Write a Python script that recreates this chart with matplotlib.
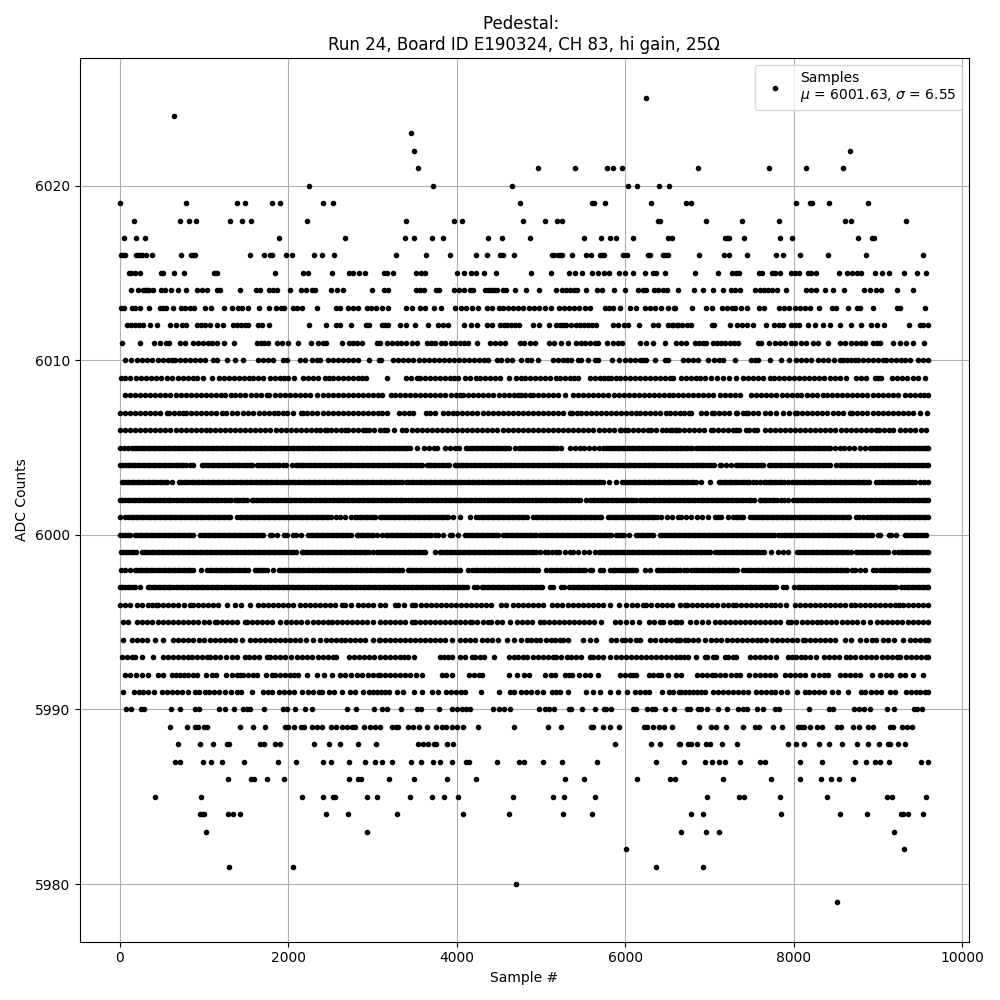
import matplotlib
matplotlib.use("Agg")
import matplotlib.pyplot as plt

# sample numbers per ADC level
s6025 = [6247]
s6024 = [645]
s6023 = [3458]
s6022 = [3493, 8668]
s6021 = [3541, 4965, 5404, 5784, 5851, 5962, 6864, 7707, 8146, 8585]
s6020 = [2247, 3719, 4656, 6033, 6140, 6401, 6520]
s6019 = [0, 787, 1392, 1487, 1808, 1903, 2413, 2532, 4751, 5600, 5625, 5760, 6306, 6722, 6781, 8027, 8193, 8217, 8419, 8882]
s6018 = [170, 716, 823, 906, 1309, 1452, 1559, 2223, 3399, 3968, 4063, 4787, 5048, 5191, 5250, 6389, 6413, 6959, 7386, 7826, 8609, 8680, 9333]
s6017 = [51, 194, 301, 1891, 2674, 3387, 3493, 3707, 3838, 4372, 4538, 4870, 5511, 5713, 5820, 5891, 6093, 6508, 6555, 7185, 7208, 7232, 7410, 7837, 7980, 8763, 8929, 8953]
s6016 = [16, 40, 63, 194, 218, 241, 265, 313, 384, 728, 847, 870, 894, 1547, 1713, 1784, 1808, 1974, 2045, 2306, 2401, 2544, 3280, 3636, 3921, 4229, 4360, 4518, 4542, 4680, 5131, 5155, 5202, 5226, 5250, 5369, 5535, 5594, 5701, 5725, 5748, 5974, 6021, 6271, 6295, 6449, 6472, 6508, 6876, 7173, 7232, 7446, 7790, 7873, 8075, 8407, 8858, 9535]
s6015 = [111, 134, 182, 241, 490, 514, 645, 763, 1120, 1155, 1843, 2176, 2235, 2520, 2722, 2769, 2840, 2912, 3137, 3173, 3244, 3517, 3577, 3624, 4004, 4087, 4170, 4229, 4324, 4467, 4882, 5119, 5333, 5404, 5487, 5606, 5677, 5748, 5808, 5926, 5998, 6093, 6235, 6330, 6366, 6472, 6829, 7102, 7268, 7315, 7351, 7588, 7624, 7742, 7778, 7837, 7968, 8015, 8063, 8170, 8205, 8265, 8538, 8633, 8692, 8751, 8799, 8965, 9048, 9131, 9309, 9463, 9570]
s6014 = [134, 218, 277, 301, 324, 348, 396, 490, 538, 609, 692, 787, 918, 977, 1036, 1155, 1191, 1428, 1618, 1665, 1772, 1820, 1867, 2021, 2152, 2211, 2283, 2318, 2508, 2579, 2650, 2995, 3137, 3185, 3517, 3565, 3612, 3755, 3790, 3968, 4028, 4087, 4158, 4194, 4336, 4372, 4407, 4443, 4479, 4550, 4585, 4692, 4823, 4977, 5179, 5250, 5297, 5345, 5392, 5428, 5535, 5665, 5725, 5867, 5998, 6152, 6211, 6247, 6342, 6389, 6449, 6496, 6627, 6817, 6924, 7042, 7161, 7256, 7303, 7363, 7541, 7600, 7648, 7695, 7742, 7802, 7909, 8146, 8205, 8265, 8372, 8466, 8597, 8834, 8906, 8977, 9036, 9226, 9416]
s6013 = [16, 51, 146, 182, 241, 348, 479, 514, 550, 633, 728, 775, 835, 882, 1013, 1084, 1238, 1333, 1404, 1452, 1523, 1654, 1772, 1855, 1915, 1950, 2057, 2105, 2164, 2342, 2567, 2615, 2710, 2769, 2829, 2935, 2983, 3042, 3114, 3185, 3399, 3470, 3565, 3624, 3731, 3814, 3980, 4051, 4111, 4182, 4253, 4360, 4419, 4502, 4550, 4609, 4668, 4728, 4787, 4858, 4918, 4977, 5048, 5119, 5214, 5274, 5333, 5392, 5452, 5523, 5582, 5760, 5808, 5855, 5938, 6057, 6128, 6235, 6295, 6354, 6425, 6508, 6579, 6591, 6793, 6959, 7030, 7149, 7208, 7268, 7303, 7375, 7446, 7588, 7651, 7826, 7885, 7944, 8015, 8075, 8134, 8193, 8300, 8454, 8502, 8644, 8751, 8787, 8941, 9226, 9262, 9558]
s6012 = [87, 130, 175, 225, 277, 360, 443, 597, 669, 740, 787, 910, 960, 1015, 1068, 1155, 1226, 1345, 1390, 1440, 1480, 1523, 1642, 1689, 1772, 2247, 2445, 2560, 2615, 2742, 2927, 2959, 3114, 3150, 3185, 3327, 3402, 3505, 3660, 3778, 3838, 3897, 4087, 4170, 4241, 4352, 4419, 4510, 4560, 4600, 4645, 4688, 4740, 4906, 4977, 5096, 5175, 5220, 5260, 5301, 5361, 5410, 5465, 5510, 5560, 5610, 5657, 5855, 5914, 5982, 6033, 6164, 6330, 6389, 6508, 6567, 6627, 6556, 6610, 6670, 6730, 6785, 7030, 7054, 7244, 7331, 7386, 7446, 7517, 7671, 7766, 7820, 7873, 7972, 8020, 8063, 8170, 8253, 8348, 8431, 8550, 8680, 8799, 8917, 8989, 9072, 9368, 9495, 9540, 9599]
s6011 = [28, 241, 407, 479, 546, 585, 716, 775, 870, 925, 985, 1040, 1095, 1147, 1238, 1353, 1622, 1670, 1715, 1760, 1867, 1926, 1998, 2116, 2271, 2354, 2413, 2445, 2639, 2722, 2770, 2820, 2868, 3046, 3086, 3165, 3225, 3285, 3340, 3400, 3465, 3521, 3640, 3690, 3739, 3806, 3865, 3925, 3980, 4040, 4090, 4134, 4241, 4392, 4450, 4510, 4569, 4748, 4800, 4865, 4926, 5096, 5155, 5238, 5321, 5420, 5475, 5525, 5578, 5638, 5677, 5784, 5855, 5914, 5962, 6172, 6251, 6330, 6472, 6607, 6660, 6726, 6825, 6880, 6925, 6963, 7042, 7090, 7135, 7181, 7240, 7290, 7339, 7576, 7616, 7703, 7778, 7835, 7893, 7964, 8020, 8085, 8142, 8229, 8288, 8407, 8546, 8610, 8684, 8743, 8795, 8842, 8941, 8985, 9020, 9179, 9258, 9337, 9416, 9546]
s6010 = [63, 134, 206, 265, 320, 376, 451, 514, 565, 613, 653, 710, 770, 830, 890, 950, 1009, 1108, 1155, 1274, 1369, 1464, 1642, 1700, 1760, 1820, 1938, 1986, 2136, 2195, 2275, 2334, 2381, 2472, 2530, 2590, 2650, 2710, 2770, 2829, 2959, 3074, 3102, 3244, 3304, 3365, 3425, 3485, 3545, 3605, 3665, 3725, 3785, 3845, 3905, 3965, 4025, 4085, 4145, 4205, 4265, 4320, 4372, 4471, 4530, 4590, 4649, 4767, 4827, 4886, 4965, 5143, 5200, 5255, 5310, 5361, 5440, 5479, 5559, 5638, 5677, 5843, 5922, 5994, 6053, 6112, 6170, 6215, 6251, 6350, 6468, 6508, 6686, 6745, 6805, 6864, 6983, 7054, 7110, 7161, 7299, 7497, 7540, 7576, 7715, 7853, 7944, 8031, 8090, 8150, 8210, 8288, 8348, 8410, 8480, 8546, 8585, 8630, 8680, 8724, 8763, 8820, 8880, 8940, 9000, 9060, 9099, 9159, 9215, 9270, 9325, 9376, 9475, 9535, 9599]
s6009 = [8, 65, 125, 185, 245, 305, 365, 430, 490, 555, 613, 692, 750, 810, 865, 918, 989, 1096, 1179, 1235, 1295, 1350, 1410, 1470, 1530, 1582, 1642, 1700, 1780, 1840, 1900, 1950, 1998, 2069, 2168, 2235, 2295, 2354, 2433, 2485, 2532, 2591, 2650, 2710, 2770, 2825, 2875, 2920, 3173, 3402, 3460, 3521, 3561, 3620, 3680, 3740, 3800, 3860, 3915, 3965, 4016, 4095, 4154, 4233, 4273, 4335, 4395, 4451, 4518, 4621, 4708, 4760, 4807, 4874, 4926, 4985, 5045, 5105, 5183, 5222, 5280, 5340, 5395, 5440, 5578, 5635, 5695, 5750, 5796, 5835, 5885, 5934, 5994, 6055, 6115, 6175, 6235, 6295, 6355, 6415, 6475, 6525, 6567, 6666, 6720, 6780, 6835, 6890, 6943, 7015, 7090, 7161, 7232, 7319, 7398, 7455, 7515, 7575, 7635, 7715, 7762, 7825, 7885, 7945, 8005, 8065, 8125, 8185, 8245, 8305, 8365, 8425, 8485, 8545, 8625, 8735, 8803, 8862, 8961, 9000, 9040, 9171, 9230, 9290, 9350, 9410, 9470, 9554]
s6008 = [59, 120, 180, 240, 300, 360, 420, 480, 540, 600, 660, 720, 780, 840, 900, 960, 1020, 1080, 1140, 1195, 1246, 1313, 1370, 1430, 1490, 1550, 1610, 1675, 1741, 1772, 1840, 1900, 1960, 2020, 2080, 2140, 2200, 2260, 2334, 2405, 2465, 2525, 2585, 2645, 2705, 2765, 2825, 2885, 2945, 3005, 3065, 3106, 3213, 3264, 3325, 3385, 3445, 3505, 3565, 3625, 3685, 3745, 3805, 3865, 3925, 3985, 4035, 4075, 4135, 4195, 4255, 4315, 4375, 4435, 4495, 4555, 4615, 4675, 4725, 4767, 4807, 4866, 4906, 4965, 5025, 5085, 5145, 5205, 5282, 5380, 5440, 5500, 5560, 5620, 5680, 5740, 5800, 5860, 5920, 5980, 6040, 6100, 6160, 6220, 6280, 6340, 6400, 6460, 6520, 6568, 6628, 6688, 6748, 6808, 6868, 6928, 6985, 7042, 7121, 7180, 7240, 7300, 7359, 7497, 7555, 7615, 7675, 7735, 7795, 7855, 7915, 7975, 8035, 8091, 8158, 8215, 8275, 8348, 8395, 8455, 8515, 8575, 8635, 8695, 8755, 8815, 8875, 8935, 8995, 9055, 9115, 9179, 9238, 9317, 9376, 9435, 9495, 9550, 9599]
s6007 = [0, 60, 120, 180, 240, 300, 360, 420, 480, 554, 585, 645, 700, 744, 783, 845, 905, 965, 1025, 1085, 1139, 1207, 1265, 1325, 1385, 1464, 1523, 1585, 1645, 1705, 1765, 1825, 1880, 1930, 1986, 2050, 2144, 2168, 2225, 2285, 2345, 2405, 2465, 2525, 2585, 2645, 2705, 2765, 2825, 2885, 2945, 3005, 3065, 3106, 3165, 3315, 3371, 3430, 3482, 3628, 3685, 3739, 3838, 3897, 3956, 4004, 4065, 4125, 4185, 4245, 4305, 4365, 4425, 4485, 4545, 4605, 4665, 4725, 4785, 4845, 4905, 4965, 5025, 5085, 5145, 5205, 5265, 5341, 5373, 5430, 5479, 5531, 5590, 5650, 5710, 5770, 5830, 5890, 5950, 6010, 6070, 6132, 6172, 6230, 6290, 6350, 6410, 6480, 6528, 6590, 6646, 6700, 6762, 6785, 6900, 6960, 7030, 7050, 7110, 7170, 7230, 7311, 7331, 7400, 7430, 7458, 7515, 7576, 7655, 7715, 7794, 7873, 7940, 8012, 8039, 8100, 8160, 8220, 8280, 8340, 8400, 8460, 8520, 8580, 8664, 8696, 8755, 8815, 8875, 8935, 8995, 9055, 9115, 9175, 9235, 9295, 9355, 9415, 9503, 9586]
s6006 = [0, 60, 120, 180, 240, 300, 360, 420, 480, 540, 600, 660, 720, 780, 840, 900, 960, 1020, 1068, 1127, 1187, 1247, 1307, 1367, 1427, 1487, 1547, 1607, 1667, 1727, 1787, 1847, 1907, 1967, 2027, 2087, 2147, 2207, 2267, 2327, 2380, 2433, 2453, 2510, 2570, 2630, 2670, 2710, 2769, 2830, 2880, 2920, 2960, 3020, 3086, 3130, 3173, 3252, 3343, 3402, 3462, 3522, 3582, 3642, 3702, 3762, 3822, 3882, 3942, 4002, 4062, 4122, 4182, 4242, 4302, 4362, 4422, 4482, 4542, 4602, 4662, 4722, 4782, 4842, 4902, 4962, 5022, 5082, 5142, 5202, 5262, 5322, 5382, 5442, 5502, 5562, 5622, 5682, 5742, 5802, 5862, 5934, 5954, 5994, 6033, 6093, 6153, 6213, 6270, 6310, 6370, 6430, 6488, 6535, 6607, 6555, 6599, 6639, 6695, 6755, 6815, 6875, 6935, 7022, 7042, 7100, 7160, 7220, 7280, 7311, 7351, 7430, 7469, 7525, 7565, 7663, 7715, 7775, 7835, 7895, 7955, 8015, 8075, 8135, 8195, 8255, 8315, 8375, 8435, 8495, 8555, 8615, 8675, 8735, 8795, 8855, 8915, 8981, 9012, 9070, 9130, 9179, 9266, 9325, 9385, 9445, 9505, 9566]
s6005 = [0, 45, 90, 138, 178, 238, 298, 358, 418, 478, 538, 598, 658, 718, 778, 838, 898, 958, 1018, 1078, 1138, 1198, 1258, 1318, 1378, 1438, 1498, 1558, 1618, 1678, 1738, 1798, 1858, 1918, 1978, 2038, 2098, 2158, 2218, 2278, 2338, 2398, 2458, 2518, 2578, 2638, 2698, 2758, 2818, 2878, 2938, 2998, 3058, 3118, 3178, 3238, 3298, 3360, 3405, 3442, 3521, 3612, 3665, 3725, 3766, 3865, 3920, 3975, 4030, 4103, 4134, 4194, 4254, 4314, 4374, 4434, 4494, 4554, 4614, 4688, 4736, 4796, 4856, 4916, 4976, 5036, 5096, 5156, 5191, 5238, 5341, 5400, 5460, 5511, 5570, 5630, 5690, 5737, 5776, 5836, 5896, 5956, 6016, 6076, 6136, 6196, 6256, 6316, 6376, 6436, 6496, 6556, 6616, 6676, 6736, 6796, 6844, 6876, 6936, 6996, 7056, 7116, 7176, 7236, 7296, 7356, 7416, 7476, 7536, 7596, 7656, 7716, 7776, 7836, 7896, 7956, 8016, 8076, 8136, 8196, 8256, 8316, 8376, 8436, 8486, 8546, 8600, 8660, 8720, 8783, 8850, 8902, 8962, 9022, 9082, 9142, 9202, 9262, 9322, 9382, 9442, 9502, 9562, 9599]
s6004 = [0, 60, 120, 180, 240, 300, 360, 420, 480, 540, 600, 660, 720, 780, 830, 870, 969, 1029, 1089, 1149, 1209, 1269, 1329, 1389, 1449, 1509, 1569, 1622, 1654, 1714, 1774, 1834, 1894, 1930, 1970, 2037, 2089, 2149, 2209, 2269, 2329, 2389, 2449, 2509, 2569, 2629, 2689, 2749, 2809, 2869, 2929, 2989, 3049, 3109, 3169, 3229, 3289, 3349, 3409, 3469, 3529, 3589, 3640, 3668, 3728, 3788, 3848, 3908, 3976, 3988, 4048, 4108, 4168, 4228, 4288, 4348, 4408, 4468, 4528, 4588, 4648, 4708, 4768, 4828, 4888, 4948, 5008, 5068, 5128, 5188, 5248, 5308, 5368, 5428, 5488, 5548, 5608, 5668, 5728, 5788, 5848, 5908, 5968, 6028, 6088, 6148, 6208, 6268, 6328, 6388, 6448, 6508, 6568, 6628, 6688, 6748, 6808, 6868, 6928, 6988, 7048, 7121, 7141, 7200, 7260, 7319, 7339, 7399, 7459, 7519, 7579, 7639, 7703, 7734, 7794, 7854, 7914, 7974, 8034, 8094, 8154, 8214, 8274, 8334, 8395, 8427, 8506, 8546, 8606, 8666, 8726, 8786, 8846, 8906, 8966, 9026, 9086, 9146, 9206, 9266, 9326, 9386, 9446, 9506, 9566, 9599]
s6003 = [20, 80, 140, 200, 260, 320, 380, 440, 500, 562, 613, 700, 760, 820, 880, 940, 1000, 1060, 1120, 1180, 1240, 1300, 1360, 1420, 1480, 1540, 1600, 1660, 1720, 1780, 1840, 1900, 1960, 2020, 2080, 2140, 2200, 2260, 2320, 2380, 2440, 2500, 2560, 2620, 2680, 2740, 2800, 2860, 2920, 2980, 3040, 3100, 3160, 3220, 3280, 3343, 3395, 3455, 3515, 3575, 3635, 3695, 3755, 3815, 3875, 3935, 3995, 4055, 4115, 4175, 4235, 4295, 4355, 4415, 4475, 4535, 4595, 4655, 4715, 4775, 4807, 4827, 4887, 4947, 5007, 5067, 5127, 5163, 5191, 5251, 5311, 5371, 5431, 5491, 5551, 5611, 5671, 5737, 5808, 5895, 5966, 6026, 6086, 6146, 6206, 6266, 6326, 6386, 6446, 6506, 6566, 6626, 6686, 6746, 6806, 6844, 6904, 7003, 7110, 7170, 7230, 7290, 7350, 7410, 7470, 7517, 7549, 7604, 7643, 7703, 7763, 7823, 7883, 7932, 7984, 8044, 8104, 8164, 8224, 8284, 8328, 8356, 8416, 8476, 8536, 8596, 8656, 8716, 8776, 8836, 8896, 8981, 9012, 9072, 9132, 9192, 9252, 9312, 9372, 9436, 9503, 9550, 9599]
s6002 = [0, 60, 120, 180, 240, 300, 360, 420, 480, 540, 600, 660, 720, 780, 840, 900, 960, 1020, 1080, 1140, 1200, 1260, 1320, 1365, 1385, 1445, 1505, 1563, 1582, 1642, 1702, 1762, 1822, 1882, 1942, 2002, 2062, 2122, 2182, 2242, 2302, 2362, 2422, 2482, 2542, 2602, 2662, 2722, 2782, 2842, 2902, 2962, 3022, 3082, 3142, 3202, 3262, 3322, 3383, 3422, 3482, 3542, 3602, 3662, 3722, 3782, 3842, 3902, 3962, 4022, 4082, 4142, 4202, 4262, 4322, 4382, 4442, 4502, 4562, 4622, 4682, 4742, 4802, 4862, 4922, 4982, 5042, 5102, 5143, 5163, 5223, 5283, 5343, 5403, 5463, 5538, 5586, 5646, 5706, 5766, 5826, 5886, 5946, 6006, 6066, 6126, 6172, 6203, 6263, 6323, 6383, 6443, 6503, 6563, 6623, 6683, 6743, 6803, 6863, 6923, 6983, 7043, 7103, 7163, 7223, 7283, 7343, 7403, 7463, 7523, 7596, 7616, 7676, 7736, 7796, 7853, 7881, 7932, 7990, 8031, 8051, 8111, 8171, 8231, 8291, 8351, 8411, 8471, 8531, 8591, 8651, 8711, 8771, 8831, 8891, 8951, 9011, 9071, 9131, 9191, 9251, 9311, 9371, 9431, 9491, 9551, 9599]
s6001 = [0, 59, 99, 159, 219, 279, 339, 399, 459, 519, 579, 639, 699, 759, 791, 830, 890, 950, 1010, 1070, 1130, 1190, 1250, 1310, 1385, 1424, 1484, 1544, 1604, 1664, 1724, 1784, 1844, 1904, 1964, 2024, 2084, 2144, 2204, 2264, 2324, 2384, 2444, 2504, 2571, 2611, 2670, 2749, 2789, 2849, 2909, 2969, 3029, 3086, 3146, 3206, 3266, 3326, 3386, 3446, 3506, 3566, 3626, 3686, 3746, 3806, 3866, 3897, 3956, 4035, 4154, 4233, 4293, 4353, 4413, 4473, 4533, 4593, 4653, 4713, 4773, 4833, 4906, 4937, 4997, 5057, 5117, 5177, 5237, 5297, 5357, 5417, 5477, 5537, 5597, 5657, 5717, 5796, 5835, 5895, 5955, 6015, 6075, 6135, 6195, 6255, 6315, 6375, 6429, 6496, 6550, 6627, 6666, 6725, 6785, 6850, 6916, 6983, 7062, 7100, 7141, 7220, 7280, 7340, 7400, 7477, 7517, 7577, 7637, 7697, 7757, 7817, 7877, 7937, 7997, 8057, 8117, 8177, 8237, 8297, 8357, 8417, 8477, 8537, 8597, 8657, 8743, 8775, 8825, 8870, 8902, 8962, 9022, 9082, 9142, 9202, 9262, 9322, 9382, 9442, 9502, 9562, 9599]
s6000 = [0, 60, 120, 178, 206, 266, 326, 386, 446, 506, 566, 626, 686, 746, 806, 866, 949, 981, 1041, 1101, 1161, 1221, 1281, 1341, 1401, 1461, 1521, 1581, 1641, 1701, 1780, 1800, 1860, 1946, 1986, 2057, 2089, 2149, 2235, 2263, 2323, 2383, 2443, 2503, 2563, 2623, 2683, 2743, 2809, 2829, 2889, 2949, 3007, 3050, 3106, 3157, 3217, 3277, 3337, 3397, 3457, 3517, 3577, 3637, 3697, 3739, 3778, 3838, 3917, 3948, 4008, 4095, 4134, 4194, 4254, 4314, 4374, 4434, 4494, 4542, 4581, 4641, 4701, 4761, 4821, 4881, 4941, 4993, 5025, 5085, 5145, 5205, 5265, 5325, 5385, 5445, 5505, 5565, 5625, 5685, 5745, 5805, 5895, 5926, 5986, 6046, 6132, 6152, 6212, 6272, 6332, 6409, 6441, 6501, 6561, 6621, 6681, 6741, 6801, 6861, 6921, 6981, 7041, 7101, 7161, 7221, 7281, 7341, 7401, 7461, 7521, 7581, 7641, 7701, 7761, 7814, 7853, 7913, 7973, 8033, 8093, 8153, 8213, 8273, 8333, 8393, 8453, 8513, 8573, 8633, 8693, 8753, 8813, 8873, 8933, 9000, 9028, 9131, 9159, 9219, 9317, 9349, 9409, 9469, 9529, 9574]
s5999 = [8, 68, 128, 188, 257, 285, 345, 405, 465, 525, 585, 645, 705, 765, 825, 885, 945, 1005, 1065, 1125, 1185, 1245, 1305, 1365, 1425, 1485, 1545, 1605, 1665, 1725, 1785, 1845, 1905, 1965, 2025, 2085, 2156, 2176, 2236, 2296, 2356, 2416, 2476, 2536, 2596, 2656, 2716, 2776, 2836, 2896, 2956, 3046, 3086, 3146, 3206, 3266, 3326, 3386, 3446, 3506, 3566, 3620, 3739, 3798, 3858, 3918, 3978, 4038, 4098, 4158, 4218, 4278, 4338, 4398, 4458, 4518, 4578, 4638, 4698, 4758, 4818, 4878, 4938, 5044, 5084, 5130, 5175, 5214, 5280, 5341, 5380, 5440, 5510, 5570, 5638, 5685, 5745, 5805, 5865, 5925, 5985, 6045, 6105, 6165, 6225, 6285, 6345, 6405, 6465, 6525, 6585, 6646, 6706, 6766, 6826, 6886, 6946, 7006, 7060, 7102, 7129, 7189, 7249, 7309, 7369, 7429, 7489, 7549, 7609, 7647, 7727, 7814, 7874, 7934, 8039, 8079, 8139, 8199, 8259, 8319, 8379, 8439, 8499, 8559, 8619, 8679, 8743, 8763, 8823, 8883, 8943, 9003, 9063, 9123, 9187, 9238, 9298, 9358, 9418, 9478, 9538, 9599]
s5998 = [8, 59, 120, 178, 206, 266, 326, 386, 446, 506, 566, 626, 686, 746, 806, 862, 957, 1036, 1096, 1156, 1216, 1276, 1336, 1396, 1456, 1516, 1602, 1622, 1682, 1742, 1812, 1887, 1947, 2007, 2067, 2127, 2187, 2247, 2307, 2367, 2427, 2487, 2547, 2607, 2667, 2727, 2787, 2847, 2907, 2967, 3027, 3086, 3106, 3166, 3226, 3286, 3346, 3422, 3442, 3502, 3562, 3622, 3682, 3742, 3802, 3862, 3922, 3982, 4042, 4134, 4185, 4245, 4305, 4365, 4425, 4485, 4545, 4605, 4665, 4725, 4785, 4845, 4905, 4965, 5064, 5103, 5163, 5223, 5283, 5343, 5403, 5463, 5523, 5578, 5606, 5697, 5737, 5823, 5883, 5943, 6003, 6063, 6123, 6231, 6298, 6377, 6401, 6461, 6521, 6581, 6646, 6700, 6734, 6785, 6845, 6905, 6965, 7025, 7085, 7145, 7205, 7265, 7325, 7398, 7438, 7498, 7558, 7618, 7678, 7738, 7798, 7858, 7918, 7978, 8038, 8098, 8158, 8218, 8278, 8338, 8398, 8458, 8518, 8578, 8638, 8696, 8728, 8788, 8848, 8941, 8981, 9028, 9088, 9148, 9208, 9268, 9328, 9388, 9448, 9508, 9568, 9599]
s5997 = [0, 60, 120, 180, 240, 336, 360, 420, 480, 540, 600, 660, 720, 780, 840, 900, 960, 1020, 1080, 1140, 1200, 1260, 1320, 1380, 1440, 1500, 1560, 1620, 1680, 1740, 1800, 1860, 1920, 1980, 2040, 2100, 2160, 2220, 2280, 2340, 2400, 2460, 2520, 2580, 2640, 2700, 2760, 2820, 2880, 2940, 3000, 3060, 3120, 3180, 3240, 3300, 3360, 3420, 3480, 3540, 3600, 3671, 3699, 3759, 3819, 3879, 3939, 3999, 4059, 4119, 4206, 4245, 4293, 4353, 4413, 4473, 4533, 4593, 4653, 4713, 4773, 4833, 4893, 4953, 5013, 5103, 5143, 5242, 5270, 5333, 5393, 5453, 5513, 5573, 5633, 5693, 5753, 5813, 5873, 5933, 5993, 6053, 6113, 6173, 6233, 6293, 6353, 6413, 6473, 6533, 6593, 6653, 6713, 6773, 6833, 6893, 6953, 7013, 7073, 7133, 7193, 7253, 7313, 7373, 7433, 7493, 7553, 7613, 7673, 7733, 7793, 7873, 7913, 8000, 8051, 8079, 8139, 8199, 8259, 8319, 8379, 8439, 8499, 8559, 8619, 8679, 8739, 8799, 8859, 8919, 8979, 9039, 9099, 9159, 9219, 9277, 9309, 9369, 9429, 9489, 9549, 9599]
s5996 = [0, 60, 120, 198, 265, 332, 380, 427, 455, 515, 575, 635, 695, 755, 831, 870, 930, 990, 1050, 1110, 1170, 1274, 1365, 1440, 1543, 1642, 1693, 1753, 1813, 1873, 1933, 1993, 2053, 2136, 2195, 2255, 2315, 2375, 2435, 2495, 2555, 2631, 2670, 2749, 2829, 2880, 2940, 3000, 3086, 3150, 3264, 3304, 3370, 3470, 3509, 3569, 3629, 3689, 3749, 3809, 3869, 3929, 3989, 4049, 4109, 4169, 4229, 4289, 4349, 4409, 4530, 4589, 4668, 4728, 4788, 4848, 4908, 4968, 5028, 5135, 5194, 5254, 5314, 5374, 5434, 5494, 5554, 5614, 5674, 5737, 5824, 5922, 6014, 6074, 6134, 6211, 6251, 6311, 6371, 6431, 6491, 6551, 6646, 6706, 6734, 6794, 6854, 6914, 6974, 7034, 7094, 7154, 7214, 7280, 7311, 7371, 7431, 7491, 7551, 7611, 7671, 7734, 7774, 7840, 7913, 8012, 8072, 8132, 8192, 8252, 8312, 8372, 8432, 8492, 8552, 8612, 8684, 8724, 8784, 8844, 8904, 8964, 9024, 9084, 9144, 9204, 9246, 9297, 9357, 9417, 9477, 9535, 9599]
s5995 = [40, 99, 206, 266, 326, 386, 446, 506, 566, 633, 692, 752, 812, 872, 932, 992, 1052, 1127, 1147, 1207, 1267, 1327, 1387, 1484, 1503, 1563, 1623, 1681, 1749, 1809, 1899, 1970, 2030, 2090, 2150, 2215, 2294, 2354, 2414, 2474, 2512, 2579, 2639, 2699, 2759, 2819, 2879, 2939, 2999, 3086, 3146, 3206, 3266, 3326, 3386, 3462, 3501, 3561, 3621, 3681, 3741, 3801, 3861, 3921, 3981, 4041, 4101, 4154, 4185, 4245, 4305, 4372, 4411, 4471, 4531, 4629, 4716, 4776, 4836, 4896, 4985, 5032, 5092, 5152, 5212, 5272, 5332, 5392, 5452, 5512, 5572, 5632, 5717, 5875, 5935, 6013, 6081, 6164, 6282, 6342, 6409, 6449, 6528, 6587, 6610, 6666, 6765, 6844, 6912, 6983, 7062, 7122, 7182, 7242, 7302, 7362, 7422, 7482, 7542, 7602, 7662, 7722, 7782, 7842, 7932, 7972, 8032, 8092, 8152, 8212, 8272, 8328, 8387, 8447, 8507, 8567, 8627, 8687, 8747, 8822, 8902, 8989, 9049, 9109, 9169, 9229, 9289, 9357, 9416, 9476, 9536, 9599]
s5994 = [40, 138, 198, 258, 318, 415, 514, 633, 693, 753, 813, 873, 933, 997, 1068, 1128, 1188, 1248, 1308, 1365, 1444, 1543, 1603, 1663, 1723, 1783, 1843, 1903, 1963, 2023, 2083, 2143, 2203, 2294, 2381, 2441, 2501, 2561, 2621, 2670, 2730, 2790, 2850, 2908, 3007, 3074, 3086, 3146, 3206, 3266, 3326, 3383, 3442, 3502, 3562, 3622, 3682, 3742, 3802, 3862, 3937, 4035, 4095, 4155, 4213, 4293, 4353, 4413, 4490, 4597, 4676, 4767, 4835, 4885, 4945, 4985, 5064, 5123, 5163, 5223, 5262, 5321, 5499, 5578, 5649, 5835, 5895, 5955, 5994, 6053, 6132, 6180, 6298, 6358, 6418, 6478, 6538, 6598, 6646, 6627, 6706, 6746, 6806, 6866, 6943, 7022, 7082, 7142, 7202, 7262, 7322, 7382, 7442, 7502, 7562, 7616, 7676, 7736, 7796, 7856, 7916, 7976, 8036, 8110, 8130, 8190, 8250, 8310, 8370, 8430, 8486, 8605, 8684, 8791, 8854, 8933, 8981, 9060, 9119, 9187, 9297, 9384, 9444, 9504, 9564, 9599]
s5993 = [20, 80, 138, 178, 257, 388, 514, 574, 634, 694, 754, 811, 850, 910, 970, 1030, 1068, 1127, 1187, 1258, 1325, 1395, 1484, 1535, 1595, 1655, 1741, 1780, 1840, 1900, 1960, 2025, 2105, 2165, 2223, 2283, 2354, 2414, 2474, 2534, 2571, 2722, 2782, 2842, 2902, 2962, 3022, 3086, 3146, 3206, 3266, 3323, 3370, 3420, 3493, 3798, 3850, 3897, 3948, 4035, 4095, 4174, 4213, 4273, 4320, 4443, 4621, 4680, 4728, 4780, 4827, 4906, 4966, 5026, 5086, 5146, 5183, 5242, 5302, 5361, 5420, 5479, 5578, 5618, 5677, 5737, 5816, 5887, 5947, 6007, 6067, 6127, 6187, 6247, 6307, 6367, 6427, 6487, 6547, 6607, 6646, 6700, 6746, 6837, 6943, 6965, 7040, 7082, 7181, 7220, 7280, 7319, 7477, 7537, 7597, 7657, 7717, 7794, 7932, 7984, 8031, 8091, 8130, 8190, 8268, 8356, 8416, 8476, 8536, 8625, 8664, 8724, 8803, 8862, 8922, 8982, 9042, 9102, 9162, 9222, 9258, 9329, 9389, 9449, 9509, 9569, 9599]
s5992 = [59, 119, 190, 257, 328, 455, 506, 613, 665, 712, 760, 811, 862, 918, 1017, 1088, 1139, 1258, 1325, 1385, 1424, 1464, 1522, 1580, 1622, 1733, 1800, 1840, 1900, 1958, 2018, 2070, 2116, 2215, 2334, 2421, 2512, 2611, 2670, 2749, 2809, 2869, 2947, 2999, 3066, 3086, 3146, 3206, 3266, 3326, 3383, 3442, 3513, 3588, 3818, 3877, 3944, 4146, 4206, 4266, 4293, 4621, 4720, 4795, 4854, 5052, 5112, 5171, 5282, 5330, 5373, 5452, 5519, 5586, 5677, 5942, 5994, 6053, 6092, 6132, 6282, 6330, 6389, 6429, 6508, 6607, 6666, 6852, 6912, 6972, 7032, 7062, 7129, 7189, 7249, 7309, 7359, 7469, 7537, 7597, 7657, 7717, 7774, 7893, 7953, 8013, 8073, 8130, 8229, 8300, 8360, 8407, 8546, 8606, 8666, 8726, 8783, 8933, 9028, 9099, 9155, 9258, 9317, 9416, 9535]
s5991 = [40, 170, 229, 277, 336, 407, 502, 562, 621, 680, 739, 811, 894, 941, 1013, 1060, 1120, 1179, 1250, 1321, 1392, 1440, 1570, 1701, 1760, 1808, 1891, 1950, 2010, 2069, 2164, 2235, 2294, 2366, 2401, 2484, 2544, 2639, 2734, 2793, 2888, 2959, 3007, 3054, 3102, 3149, 3197, 3292, 3363, 3493, 3588, 3707, 3778, 3873, 3932, 3992, 4051, 4099, 4289, 4502, 4633, 4680, 4763, 4823, 4882, 4953, 5024, 5131, 5179, 5226, 5321, 5535, 5618, 5701, 5820, 5915, 6021, 6116, 6176, 6235, 6283, 6437, 6520, 6567, 6638, 6662, 6710, 6757, 6805, 6852, 6900, 6947, 7042, 7102, 7161, 7220, 7280, 7339, 7398, 7458, 7553, 7612, 7671, 7731, 7778, 7849, 7920, 8039, 8134, 8182, 8241, 8300, 8360, 8454, 8526, 8644, 8799, 8846, 8917, 8977, 9036, 9143, 9202, 9333, 9392, 9451, 9499, 9558, 9599]
s5990 = [75, 134, 253, 289, 609, 716, 894, 941, 1179, 1250, 1357, 1464, 1503, 1547, 1713, 1938, 1986, 2081, 2200, 2283, 2698, 2805, 3018, 3114, 3173, 3339, 3529, 3577, 3786, 3944, 4004, 4063, 4111, 4158, 4431, 4502, 4562, 4633, 4977, 5048, 5096, 5155, 5333, 5357, 5487, 5642, 5748, 5772, 5835, 6093, 6128, 6259, 6318, 6354, 6468, 6579, 6734, 6769, 6864, 6900, 6971, 7102, 7208, 7339, 7398, 7446, 7565, 7636, 7778, 7826, 8182, 8419, 8466, 8716, 8775, 8834, 8906, 9107, 9190, 9427, 9463, 9523]
s5989 = [597, 791, 890, 930, 1001, 1036, 1428, 1582, 1725, 1962, 1998, 2069, 2152, 2188, 2283, 2342, 2401, 2508, 2571, 2631, 2690, 2750, 2789, 2896, 2967, 3026, 3086, 3232, 3272, 3304, 3422, 3482, 3553, 3648, 3758, 3818, 3877, 3937, 3996, 4075, 4253, 4680, 5084, 5238, 5594, 5622, 5732, 5820, 5926, 6223, 6263, 6330, 6401, 6457, 6555, 6876, 7018, 7078, 7197, 7398, 7541, 7588, 7754, 7861, 8051, 8087, 8122, 8193, 8277, 8336, 8514, 8561, 8704, 8775, 8882, 8941, 9139, 9179, 9285, 9345, 9404]
s5988 = [693, 949, 1108, 1274, 1298, 1665, 1713, 1843, 1903, 2306, 2484, 2615, 2829, 3042, 3541, 3600, 3660, 3731, 3755, 3885, 3956, 5879, 6306, 6413, 6634, 6651, 6746, 6781, 6852, 6959, 7007, 7149, 7327, 7932, 8027, 8122, 8300, 8419, 8573, 8751, 8882, 9012, 9119, 9143, 9234, 9321]
s5987 = [657, 716, 989, 1084, 1214, 1476, 1879, 2093, 2413, 2508, 2722, 2912, 3030, 3114, 3232, 3458, 3577, 3719, 3802, 3944, 4111, 4146, 4478, 4740, 4799, 5024, 5250, 5665, 6366, 6698, 6947, 7030, 7113, 7185, 7363, 7600, 7659, 8075, 8336, 8728, 8858, 8965, 9024, 9131, 9511, 9594]
s5986 = [1286, 1559, 1594, 1749, 1950, 2718, 2829, 2864, 3197, 3493, 3885, 4229, 5285, 5511, 6140, 6532, 6591, 7161, 7731, 8075, 8324, 8443, 8538, 8704]
s5985 = [419, 965, 2164, 2413, 2532, 2556, 2935, 3054, 3446, 3707, 3849, 4016, 4668, 5143, 5274, 5642, 6971, 7351, 7410, 7837, 8395, 9107, 9166, 9570]
s5984 = [953, 977, 1001, 1286, 1345, 1428, 2449, 2710, 3292, 4075, 4621, 5262, 5606, 6781, 6924, 7849, 8550, 8870, 9274, 9297, 9357, 9535]
s5983 = [1025, 2935, 6662, 6959, 7113, 9190]
s5982 = [6009, 9309]
s5981 = [1298, 2057, 6366, 6924]
s5980 = [4704]
s5979 = [8514]

# further samples inside the solid stretches of the busiest levels
e6005 = [208, 268, 328, 388, 448, 508, 568, 628, 688, 748, 808, 868, 928, 988, 1048, 1108, 1168, 1228, 1288, 1348, 1408, 1468, 1528, 1588, 1648, 1708, 1768, 1828, 1888, 1948, 2008, 2068, 2128, 2188, 2248, 2308, 2368, 2428, 2488, 2548, 2608, 2668, 2728, 2788, 2848, 2908, 2968, 3028, 3088, 3148, 3208, 3268, 3328, 3385, 4164, 4224, 4284, 4344, 4404, 4464, 4524, 4584, 4766, 4826, 4886, 4946, 5006, 5066, 5126, 5806, 5866, 5926, 5986, 6046, 6106, 6166, 6226, 6286, 6346, 6406, 6466, 6526, 6586, 6646, 6706, 6766, 6906, 6966, 7026, 7086, 7146, 7206, 7266, 7326, 7386, 7446, 7506, 7566, 7626, 7686, 7746, 7806, 7866, 7926, 7986, 8046, 8106, 8166, 8226, 8286, 8346, 8406, 8932, 8992, 9052, 9112, 9172, 9232, 9292, 9352, 9412, 9472, 9532, 9580]
e6004 = [30, 90, 150, 210, 270, 330, 390, 450, 510, 570, 630, 690, 750, 999, 1059, 1119, 1179, 1239, 1299, 1359, 1419, 1479, 1539, 1684, 1744, 1804, 1864, 2119, 2179, 2239, 2299, 2359, 2419, 2479, 2539, 2599, 2659, 2719, 2779, 2839, 2899, 2959, 3019, 3079, 3139, 3199, 3259, 3319, 3379, 3439, 3499, 3559, 3698, 3758, 3818, 3878, 4018, 4078, 4138, 4198, 4258, 4318, 4378, 4438, 4498, 4558, 4618, 4678, 4738, 4798, 4858, 4918, 4978, 5038, 5098, 5158, 5218, 5278, 5338, 5398, 5458, 5518, 5578, 5638, 5698, 5758, 5818, 5878, 5938, 5998, 6058, 6118, 6178, 6238, 6298, 6358, 6418, 6478, 6538, 6598, 6658, 6718, 6778, 6838, 6898, 6958, 7018, 7369, 7429, 7489, 7549, 7609, 7764, 7824, 7884, 7944, 8004, 8064, 8124, 8184, 8244, 8304, 8364, 8576, 8636, 8696, 8756, 8816, 8876, 8936, 8996, 9056, 9116, 9176, 9236, 9296, 9356, 9416, 9476, 9536]
e6003 = [50, 110, 170, 230, 290, 350, 410, 470, 530, 730, 790, 850, 910, 970, 1030, 1090, 1150, 1210, 1270, 1330, 1390, 1450, 1510, 1570, 1630, 1690, 1750, 1810, 1870, 1930, 1990, 2050, 2110, 2170, 2230, 2290, 2350, 2410, 2470, 2530, 2590, 2650, 2710, 2770, 2830, 2890, 2950, 3010, 3070, 3130, 3190, 3250, 3310, 3425, 3485, 3545, 3605, 3665, 3725, 3785, 3845, 3905, 3965, 4025, 4085, 4145, 4205, 4265, 4325, 4385, 4445, 4505, 4565, 4625, 4685, 4745, 4857, 4917, 4977, 5037, 5097, 5221, 5281, 5341, 5401, 5461, 5521, 5581, 5641, 5701, 5996, 6056, 6116, 6176, 6236, 6296, 6356, 6416, 6476, 6536, 6596, 6656, 6716, 6776, 7140, 7200, 7260, 7320, 7380, 7440, 7673, 7733, 7793, 7853, 8014, 8074, 8134, 8194, 8254, 8386, 8446, 8506, 8566, 8626, 8686, 8746, 8806, 8866, 9042, 9102, 9162, 9222, 9282, 9342, 9402]
e6002 = [30, 90, 150, 210, 270, 330, 390, 450, 510, 570, 630, 690, 750, 810, 870, 930, 990, 1050, 1110, 1170, 1230, 1290, 1415, 1475, 1612, 1672, 1732, 1792, 1852, 1912, 1972, 2032, 2092, 2152, 2212, 2272, 2332, 2392, 2452, 2512, 2572, 2632, 2692, 2752, 2812, 2872, 2932, 2992, 3052, 3112, 3172, 3232, 3292, 3352, 3452, 3512, 3572, 3632, 3692, 3752, 3812, 3872, 3932, 3992, 4052, 4112, 4172, 4232, 4292, 4352, 4412, 4472, 4532, 4592, 4652, 4712, 4772, 4832, 4892, 4952, 5012, 5072, 5193, 5253, 5313, 5373, 5433, 5616, 5676, 5736, 5796, 5856, 5916, 5976, 6036, 6096, 6233, 6293, 6353, 6413, 6473, 6533, 6593, 6653, 6713, 6773, 6833, 6893, 6953, 7013, 7073, 7133, 7193, 7253, 7313, 7373, 7433, 7493, 7646, 7706, 7766, 8081, 8141, 8201, 8261, 8321, 8381, 8441, 8501, 8561, 8621, 8681, 8741, 8801, 8861, 8921, 8981, 9041, 9101, 9161, 9221, 9281, 9341, 9401, 9461, 9521, 9575]
e6001 = [129, 189, 249, 309, 369, 429, 489, 549, 609, 669, 729, 860, 920, 980, 1040, 1100, 1160, 1220, 1280, 1454, 1514, 1574, 1634, 1694, 1754, 1814, 1874, 1934, 1994, 2054, 2114, 2174, 2234, 2294, 2354, 2414, 2474, 2819, 2879, 2939, 2999, 3116, 3176, 3236, 3296, 3356, 3416, 3476, 3536, 3596, 3656, 3716, 3776, 3836, 4263, 4323, 4383, 4443, 4503, 4563, 4623, 4683, 4743, 4803, 4967, 5027, 5087, 5147, 5207, 5267, 5327, 5387, 5447, 5507, 5567, 5627, 5687, 5865, 5925, 5985, 6045, 6105, 6165, 6225, 6285, 6345, 7310, 7370, 7547, 7607, 7667, 7727, 7787, 7847, 7907, 7967, 8027, 8087, 8147, 8207, 8267, 8327, 8387, 8447, 8507, 8567, 8627, 8932, 8992, 9052, 9112, 9172, 9232, 9292, 9352, 9412, 9472, 9532]
e6000 = [30, 90, 236, 296, 356, 416, 476, 536, 596, 656, 716, 776, 836, 1011, 1071, 1131, 1191, 1251, 1311, 1371, 1431, 1491, 1551, 1611, 1671, 2293, 2353, 2413, 2473, 2533, 2593, 2653, 2713, 2859, 2919, 2979, 3187, 3247, 3307, 3367, 3427, 3487, 3547, 3607, 3667, 4164, 4224, 4284, 4344, 4404, 4464, 4611, 4671, 4731, 4791, 4851, 4911, 5055, 5115, 5175, 5235, 5295, 5355, 5415, 5475, 5535, 5595, 5655, 5715, 5775, 5835, 5955, 6182, 6242, 6302, 6471, 6531, 6591, 6651, 6711, 6771, 6831, 6891, 6951, 7011, 7071, 7131, 7191, 7251, 7311, 7371, 7431, 7491, 7551, 7611, 7671, 7731, 7883, 7943, 8003, 8063, 8123, 8183, 8243, 8303, 8363, 8423, 8483, 8543, 8603, 8663, 8723, 8783, 8843, 8903, 9379, 9439, 9499]
e5999 = [38, 98, 158, 315, 375, 435, 495, 555, 615, 675, 735, 795, 855, 915, 975, 1035, 1095, 1155, 1215, 1275, 1335, 1395, 1455, 1515, 1575, 1635, 1695, 1755, 1815, 1875, 1935, 1995, 2055, 2206, 2266, 2326, 2386, 2446, 2506, 2566, 2626, 2686, 2746, 2806, 2866, 2926, 3000, 3116, 3176, 3236, 3296, 3356, 3416, 3476, 3536, 3596, 3828, 3888, 3948, 4008, 4068, 4128, 4188, 4248, 4308, 4368, 4428, 4488, 4548, 4608, 4668, 4728, 4788, 4848, 4908, 4985, 5715, 5775, 5835, 5895, 5955, 6015, 6075, 6135, 6195, 6255, 6315, 6375, 6435, 6495, 6555, 6616, 6676, 6736, 6796, 6856, 6916, 6976, 7159, 7219, 7279, 7339, 7399, 7459, 7519, 7579, 8109, 8169, 8229, 8289, 8349, 8409, 8469, 8529, 8589, 8649, 8793, 8853, 8913, 8973, 9033, 9093, 9268, 9328, 9388, 9448, 9508, 9568]
e5998 = [236, 296, 356, 416, 476, 536, 596, 656, 716, 776, 836, 1066, 1126, 1186, 1246, 1306, 1366, 1426, 1486, 1652, 1712, 1917, 1977, 2037, 2097, 2157, 2217, 2277, 2337, 2397, 2457, 2517, 2577, 2637, 2697, 2757, 2817, 2877, 2937, 2997, 3057, 3136, 3196, 3256, 3316, 3472, 3532, 3592, 3652, 3712, 3772, 3832, 3892, 3952, 4012, 4215, 4275, 4335, 4395, 4455, 4515, 4575, 4635, 4695, 4755, 4815, 4875, 4935, 5133, 5193, 5253, 5313, 5373, 5433, 5493, 5853, 5913, 5973, 6033, 6093, 6431, 6491, 6551, 6611, 6815, 6875, 6935, 6995, 7055, 7115, 7175, 7235, 7295, 7468, 7528, 7588, 7648, 7708, 7768, 7828, 7888, 7948, 8008, 8068, 8128, 8188, 8248, 8308, 8368, 8428, 8488, 8548, 8608, 9058, 9118, 9178, 9238, 9298, 9358, 9418, 9478, 9538]
e5997 = [30, 90, 150, 390, 450, 510, 570, 630, 690, 750, 810, 870, 930, 990, 1050, 1110, 1170, 1230, 1290, 1350, 1410, 1470, 1530, 1590, 1650, 1710, 1770, 1830, 1890, 1950, 2010, 2070, 2130, 2190, 2250, 2310, 2370, 2430, 2490, 2550, 2610, 2670, 2730, 2790, 2850, 2910, 2970, 3030, 3090, 3150, 3210, 3270, 3330, 3390, 3450, 3510, 3570, 3630, 3729, 3789, 3849, 3909, 3969, 4029, 4089, 4323, 4383, 4443, 4503, 4563, 4623, 4683, 4743, 4803, 4863, 4923, 4983, 5363, 5423, 5483, 5543, 5603, 5663, 5723, 5783, 5843, 5903, 5963, 6023, 6083, 6143, 6203, 6263, 6323, 6383, 6443, 6503, 6563, 6623, 6683, 6743, 6803, 6863, 6923, 6983, 7043, 7103, 7163, 7223, 7283, 7343, 7403, 7463, 7523, 7583, 7643, 7703, 7763, 8109, 8169, 8229, 8289, 8349, 8409, 8469, 8529, 8589, 8649, 8709, 8769, 8829, 8889, 8949, 9009, 9069, 9129, 9189, 9339, 9399, 9459, 9519, 9579]

levels = [6025, 6024, 6023, 6022, 6021, 6020, 6019, 6018, 6017, 6016, 6015, 6014, 6013, 6012, 6011, 6010,
          6009, 6008, 6007, 6006, 6005, 6004, 6003, 6002, 6001, 6000, 5999, 5998, 5997, 5996, 5995, 5994,
          5993, 5992, 5991, 5990, 5989, 5988, 5987, 5986, 5985, 5984, 5983, 5982, 5981, 5980, 5979,
          6005, 6004, 6003, 6002, 6001, 6000, 5999, 5998, 5997]
samples = [s6025, s6024, s6023, s6022, s6021, s6020, s6019, s6018, s6017, s6016, s6015, s6014, s6013, s6012, s6011, s6010,
           s6009, s6008, s6007, s6006, s6005, s6004, s6003, s6002, s6001, s6000, s5999, s5998, s5997, s5996, s5995, s5994,
           s5993, s5992, s5991, s5990, s5989, s5988, s5987, s5986, s5985, s5984, s5983, s5982, s5981, s5980, s5979,
           e6005, e6004, e6003, e6002, e6001, e6000, e5999, e5998, e5997]

mu = 6001.63
sigma = 6.55

x = []
y = []
for level, row in zip(levels, samples):
    x += row
    y += [level] * len(row)

fig, ax = plt.subplots(figsize=(10, 10))
ax.plot(x, y, '.', color='k', label=f"Samples\n$\\mu$ = {mu:.2f}, $\\sigma$ = {sigma:.2f}")
ax.set_xlabel("Sample #")
ax.set_ylabel("ADC Counts")
ax.set_title("Pedestal: \nRun 24, Board ID E190324, CH 83, hi gain, 25Ω")
ax.grid(True)
ax.legend(loc="upper right")
fig.tight_layout()
fig.savefig("out.png", dpi=100)
